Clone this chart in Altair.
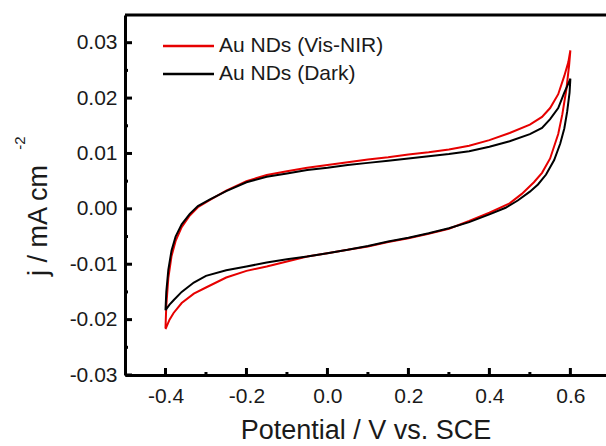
import altair as alt
import pandas as pd

# ---- data ----
red_fwd_x = [-0.400, -0.398, -0.393, -0.385, -0.375, -0.36, -0.34, -0.32, -0.29, -0.25, -0.20, -0.15, -0.10, -0.05,
             0.00, 0.05, 0.10, 0.15, 0.20, 0.25, 0.30, 0.35, 0.40, 0.45, 0.50, 0.53, 0.55, 0.57, 0.585, 0.595, 0.600]
red_fwd_y = [-0.0215, -0.0175, -0.0125, -0.0085, -0.0058, -0.0033, -0.0012, 0.0003, 0.0016, 0.0033, 0.0050, 0.0061,
             0.0068, 0.0074, 0.0079, 0.0084, 0.0089, 0.0093, 0.0098, 0.0102, 0.0107, 0.0114, 0.0124, 0.0137, 0.0152,
             0.0166, 0.0182, 0.0207, 0.0240, 0.0265, 0.0286]
red_rev_x = [0.600, 0.597, 0.59, 0.58, 0.57, 0.55, 0.53, 0.51, 0.48, 0.45, 0.40, 0.35, 0.30, 0.25, 0.20, 0.15, 0.10,
             0.05, 0.00, -0.05, -0.10, -0.15, -0.20, -0.25, -0.30, -0.33, -0.36, -0.38, -0.39, -0.40]
red_rev_y = [0.0286, 0.0260, 0.0215, 0.0170, 0.0135, 0.0091, 0.0065, 0.0048, 0.0027, 0.0010, -0.0007, -0.0022,
             -0.0036, -0.0045, -0.0053, -0.0060, -0.0068, -0.0074, -0.0080, -0.0086, -0.0095, -0.0104, -0.0112,
             -0.0124, -0.0142, -0.0153, -0.0170, -0.0188, -0.0200, -0.0217]

blk_fwd_x = [-0.400, -0.398, -0.393, -0.385, -0.375, -0.36, -0.34, -0.32, -0.29, -0.25, -0.20, -0.15, -0.10, -0.05,
             0.00, 0.05, 0.10, 0.15, 0.20, 0.25, 0.30, 0.35, 0.40, 0.45, 0.50, 0.53, 0.55, 0.57, 0.585, 0.595, 0.600]
blk_fwd_y = [-0.0183, -0.0150, -0.0110, -0.0075, -0.0050, -0.0028, -0.0009, 0.0005, 0.0017, 0.0032, 0.0048, 0.0058,
             0.0064, 0.0070, 0.0074, 0.0079, 0.0083, 0.0087, 0.0091, 0.0095, 0.0099, 0.0104, 0.0112, 0.0122, 0.0135,
             0.0146, 0.0162, 0.0182, 0.0210, 0.0226, 0.0235]
blk_rev_x = [0.600, 0.598, 0.592, 0.585, 0.575, 0.56, 0.54, 0.52, 0.50, 0.47, 0.44, 0.40, 0.35, 0.30, 0.25, 0.20,
             0.15, 0.10, 0.05, 0.00, -0.05, -0.10, -0.15, -0.20, -0.25, -0.30, -0.33, -0.36, -0.38, -0.39, -0.40]
blk_rev_y = [0.0235, 0.0210, 0.0175, 0.0145, 0.0118, 0.0088, 0.0062, 0.0044, 0.0031, 0.0015, 0.0002, -0.0010,
             -0.0024, -0.0035, -0.0044, -0.0052, -0.0059, -0.0067, -0.0074, -0.0080, -0.0086, -0.0091, -0.0097,
             -0.0104, -0.0111, -0.0121, -0.0133, -0.0150, -0.0165, -0.0173, -0.0183]

series_names = ["Au NDs (Vis-NIR)", "Au NDs (Dark)"]
series_colors = ["#e60000", "#000000"]

x_major = [-0.4, -0.2, 0.0, 0.2, 0.4, 0.6]
x_minor = [-0.3, -0.1, 0.1, 0.3, 0.5]
y_major = [-0.03, -0.02, -0.01, 0.0, 0.01, 0.02, 0.03]
y_minor = [-0.025, -0.015, -0.005, 0.005, 0.015, 0.025]

x_title = "Potential / V vs. SCE"
y_title = "j / mA cm"
y_title_sup = "-2"

# ---- build table ----
rows = []
for name, xs, ys in [(series_names[0], red_fwd_x + red_rev_x, red_fwd_y + red_rev_y),
                     (series_names[1], blk_fwd_x + blk_rev_x, blk_fwd_y + blk_rev_y)]:
    for i, (a, b) in enumerate(zip(xs, ys)):
        rows.append({"x": a, "y": b, "series": name, "idx": i})
df = pd.DataFrame(rows)

W, H = 481, 360
FONT = "Liberation Sans"
TXT = "#1a1a1a"

xscale = alt.Scale(domain=[-0.5, 0.688], nice=False, zero=False)
yscale = alt.Scale(domain=[-0.03, 0.035], nice=False, zero=False)

xaxis = alt.Axis(values=x_major, title=x_title, ticks=False, grid=False,
                 domainColor="black", domainWidth=3,
                 labelFont=FONT, labelFontSize=21, labelColor=TXT, labelPadding=10,
                 labelExpr="datum.value < 0 ? '-' + format(-datum.value, '.1f') : format(datum.value, '.1f')",
                 titleFont=FONT, titleFontSize=27, titleFontWeight="normal", titleColor=TXT,
                 titleBaseline="alphabetic", titleY=63)
yaxis = alt.Axis(values=y_major, title=y_title, ticks=False, grid=False,
                 domainColor="black", domainWidth=3,
                 labelFont=FONT, labelFontSize=21, labelColor=TXT, labelPadding=8,
                 labelExpr="datum.value < 0 ? '-' + format(-datum.value, '.2f') : format(datum.value, '.2f')",
                 titleFont=FONT, titleFontSize=27, titleFontWeight="normal", titleColor=TXT,
                 titleBaseline="alphabetic", titleAngle=270, titleAlign="center",
                 titleX=-79, titleY=205)

curves = alt.Chart(df).mark_line(strokeWidth=2).encode(
    x=alt.X("x:Q", scale=xscale, axis=xaxis, title=x_title),
    y=alt.Y("y:Q", scale=yscale, axis=yaxis, title=y_title),
    color=alt.Color("series:N", scale=alt.Scale(domain=series_names, range=series_colors), legend=None),
    order="idx:Q",
)

def xticks(vals, length):
    return alt.Chart(pd.DataFrame({"x": vals})).mark_rule(color="black", strokeWidth=3).encode(
        x=alt.X("x:Q", scale=xscale, axis=xaxis, title=x_title),
        y=alt.value(H), y2=alt.value(H - length))

def yticks(vals, length):
    return alt.Chart(pd.DataFrame({"y": vals})).mark_rule(color="black", strokeWidth=3).encode(
        y=alt.Y("y:Q", scale=yscale, axis=yaxis, title=y_title),
        x=alt.value(0), x2=alt.value(length))

top_border = alt.Chart(pd.DataFrame({"a": [0]})).mark_rule(color="black", strokeWidth=3).encode(
    x=alt.value(0), x2=alt.value(W), y=alt.value(0))

legend_layers = []
for i, (name, col) in enumerate(zip(series_names, series_colors)):
    ly = 31 + 28 * i
    legend_layers.append(
        alt.Chart(pd.DataFrame({"t": [name]})).mark_rule(color=col, strokeWidth=2.5).encode(
            x=alt.value(38), x2=alt.value(89), y=alt.value(ly)))
    legend_layers.append(
        alt.Chart(pd.DataFrame({"t": [name]})).mark_text(
            font=FONT, fontSize=21, color=TXT, align="left", baseline="middle").encode(
            text="t:N", x=alt.value(94), y=alt.value(ly)))

sup = alt.Chart(pd.DataFrame({"t": [y_title_sup]})).mark_text(
    font=FONT, fontSize=15, color=TXT, angle=270, align="center", baseline="middle").encode(
    text="t:N", x=alt.value(-105), y=alt.value(128))

chart = alt.layer(
    curves,
    xticks(x_major, 7), xticks(x_minor, 3),
    yticks(y_major, 7), yticks(y_minor, 3),
    top_border, sup, *legend_layers,
).properties(
    width=W, height=H,
    autosize=alt.AutoSizeParams(type="none"),
    padding={"left": 125, "top": 15, "right": 0, "bottom": 71},
).configure_view(stroke=None).configure(background="white")

chart.save("out.html", embed_options={"renderer": "svg", "actions": False})
